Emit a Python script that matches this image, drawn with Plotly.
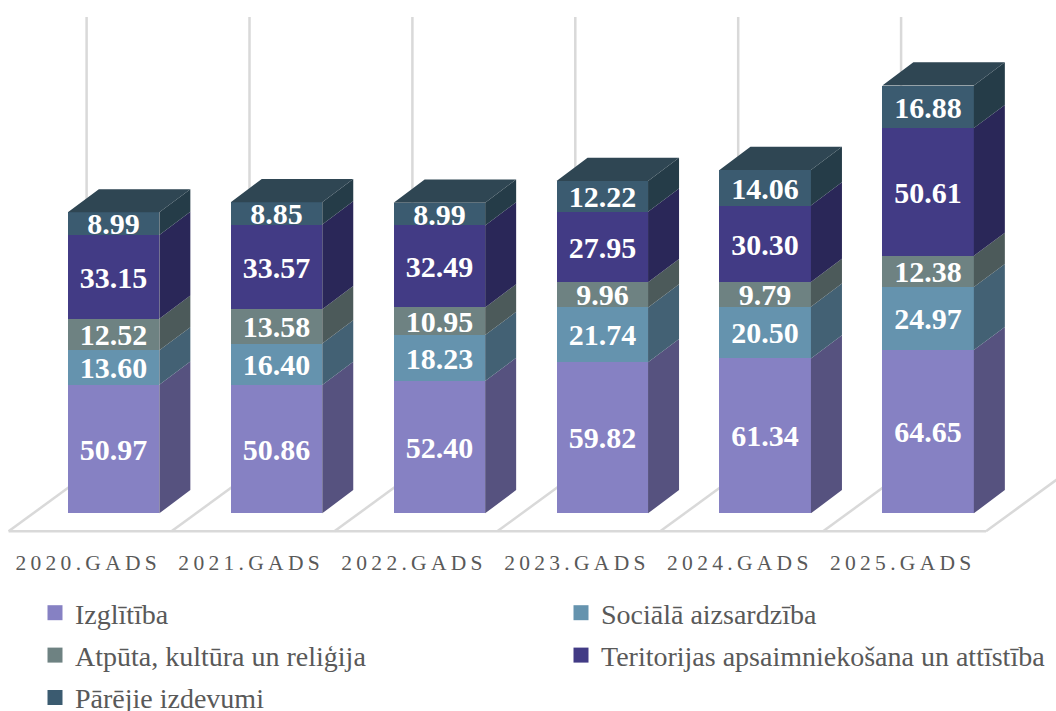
import plotly.graph_objects as go

years = ["2020", "2021", "2022", "2023", "2024", "2025"]
tick_labels = ["2020.GADS", "2021.GADS", "2022.GADS", "2023.GADS", "2024.GADS", "2025.GADS"]
izglitiba = [50.97, 50.86, 52.40, 59.82, 61.34, 64.65]
sociala = [13.60, 16.40, 18.23, 21.74, 20.50, 24.97]
atputa = [12.52, 13.58, 10.95, 9.96, 9.79, 12.38]
teritorijas = [33.15, 33.57, 32.49, 27.95, 30.30, 50.61]
parejie = [8.99, 8.85, 8.99, 12.22, 14.06, 16.88]

names = ["Izglītība", "Sociālā aizsardzība", "Atpūta, kultūra un reliģija",
         "Teritorijas apsaimniekošana un attīstība", "Pārējie izdevumi"]
series = [izglitiba, sociala, atputa, teritorijas, parejie]
front = ["#8681C3", "#6593AE", "#6E8282", "#423B85", "#3B5B70"]
side = ["#56527F", "#436174", "#4C5A5A", "#2A2758", "#253C48"]
top_colour = "#2F4653"
grid_colour = "#D9D9D9"
text_colour = "#595959"
serif = "Liberation Serif"

W, H = 1056, 711
plot_bottom = 547
px_x, px_y = 162.9, 2.524
x0_px, y0_px = 113.6, 513.3
bar_w = 91.5 / px_x
dx, dy = 31 / px_x, 23.2 / px_y
floor_front, floor_dx, floor_dy = -18 / px_y, 78 / px_x, 57 / px_y
grid_top = (y0_px - 17) / px_y
label_shift = -27.5 / px_x

xs = list(range(len(years)))
fig = go.Figure()

# floor and rear wall
shapes = []
line = dict(color=grid_colour, width=2.5)
edge = lambda i: i - 105 / px_x
for i in range(len(xs) + 1):
    e = edge(i)
    shapes.append(dict(type="line", layer="below", x0=e, x1=e + floor_dx, y0=floor_front,
                       y1=floor_front + floor_dy, line=line))
    shapes.append(dict(type="line", layer="below", x0=e + floor_dx, x1=e + floor_dx,
                       y0=floor_front + floor_dy, y1=grid_top, line=line))
shapes.append(dict(type="line", layer="below", x0=edge(0), x1=edge(len(xs)), y0=floor_front,
                   y1=floor_front, line=line))

# front faces
for vals, name, col in zip(series, names, front):
    fig.add_trace(go.Bar(x=xs, y=vals, name=name, width=bar_w, showlegend=False,
                         marker=dict(color=col, line=dict(width=0)),
                         text=[f"{v:.2f}" for v in vals], textposition="inside",
                         insidetextanchor="middle", textangle=0, constraintext="none",
                         textfont=dict(family=serif, size=30, color="white", weight="bold"),
                         hovertemplate=name + ": %{y:.2f}<extra></extra>"))

# side faces
base = [0.0] * len(xs)
for vals, col in zip(series, side):
    px, py = [], []
    for i, (b, v) in enumerate(zip(base, vals)):
        r = i + bar_w / 2
        px += [r, r + dx, r + dx, r, r, None]
        py += [b, b + dy, b + v + dy, b + v, b, None]
    fig.add_trace(go.Scatter(x=px, y=py, mode="lines", fill="toself", fillcolor=col,
                             line=dict(width=0, color=col), hoverinfo="skip", showlegend=False))
    base = [b + v for b, v in zip(base, vals)]

# top faces
px, py = [], []
for i, t in enumerate(base):
    l, r = i - bar_w / 2, i + bar_w / 2
    px += [l, r, r + dx, l + dx, l, None]
    py += [t, t, t + dy, t + dy, t, None]
fig.add_trace(go.Scatter(x=px, y=py, mode="lines", fill="toself", fillcolor=top_colour,
                         line=dict(width=0, color=top_colour), hoverinfo="skip", showlegend=False))

# legend entries
legend_of = ["legend", "legend2", "legend", "legend2", "legend"]
for name, col, lg in zip(names, front, legend_of):
    fig.add_trace(go.Scatter(x=[None], y=[None], mode="markers", name=name, legend=lg,
                             legendgroup=name,
                             marker=dict(symbol="square", size=15, color=col)))

legend_base = dict(xref="container", yref="container", xanchor="left", yanchor="top",
                   y=1 - 588 / H, orientation="v", tracegroupgap=3, bgcolor="rgba(0,0,0,0)",
                   maxheight=300, borderwidth=0,
                   font=dict(family=serif, size=28, color=text_colour))

fig.update_layout(
    width=W, height=H, autosize=False, barmode="stack", bargap=0,
    paper_bgcolor="white", plot_bgcolor="white",
    margin=dict(l=0, r=0, t=0, b=H - plot_bottom, autoexpand=False),
    xaxis=dict(range=[-x0_px / px_x, (W - x0_px) / px_x], tickmode="array",
               tickvals=[i + label_shift for i in xs],
               ticktext=["\u2009".join(t) for t in tick_labels],
               tickfont=dict(family=serif, size=21.5, color=text_colour),
               ticks="", showgrid=False, zeroline=False, showline=False, fixedrange=True),
    yaxis=dict(range=[(y0_px - plot_bottom) / px_y, y0_px / px_y], visible=False, fixedrange=True),
    shapes=shapes,
    legend=dict(legend_base, x=35 / W),
    legend2=dict(legend_base, x=561 / W),
)

fig.write_html("out.html", config=dict(displayModeBar=False),
               post_script="document.body.style.margin='0';document.body.style.overflow='hidden';")
